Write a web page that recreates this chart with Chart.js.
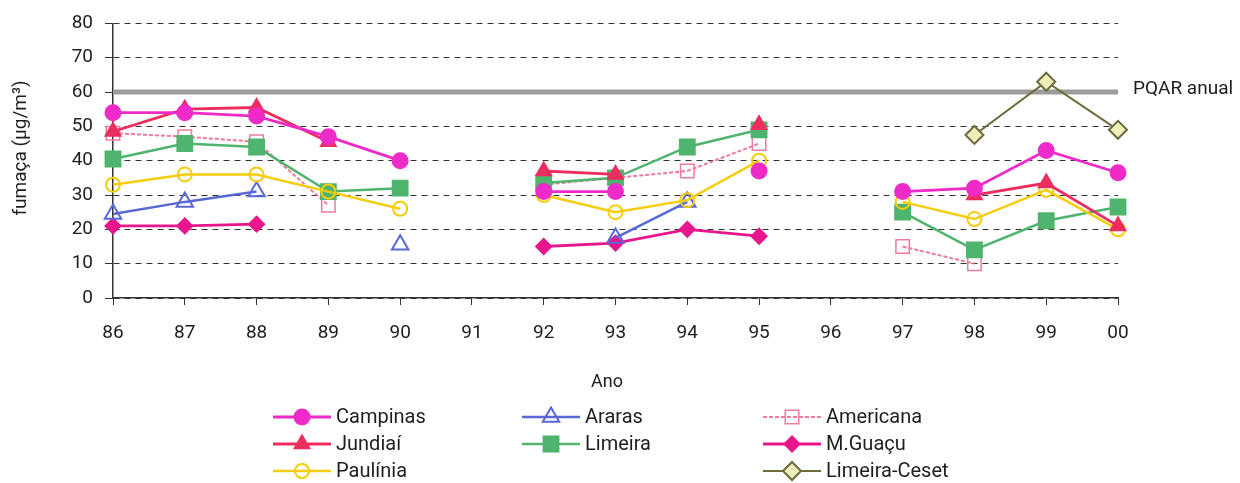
<!DOCTYPE html>
<html lang="pt">
<head>
  <meta charset="UTF-8">
  <title>Fumaça - médias anuais</title>
  <script src="https://cdn.jsdelivr.net/npm/chart.js"></script>
  <style>
    body { margin: 0; background: #fff; }
    #wrap { width: 1240px; height: 483px; }
  </style>
</head>
<body>
  <div id="wrap"><canvas id="grafico"></canvas></div>

  <script>
    // dados (µg/m³), null = sem medição
    const anos      = ['86','87','88','89','90','91','92','93','94','95','96','97','98','99','00'];
    const yTicks    = [0, 10, 20, 30, 40, 50, 60, 70, 80];
    const campinas  = [54, 54, 53, 47, 40, null, 31, 31, null, 37, null, 31, 32, 43, 36.5];
    const jundiai   = [48.5, 55, 55.5, 45.5, null, null, 37, 36, null, 50.5, null, null, 30, 33.5, 21];
    const paulinia  = [33, 36, 36, 31, 26, null, 30, 25, 28.5, 40, null, 28, 23, 31.5, 20];
    const araras    = [24.5, 28, 31, null, 15.5, null, null, 17.5, 28, null, null, null, null, null, null];
    const limeira   = [40.5, 45, 44, 31, 32, null, 33.5, 35, 44, 49, null, 25, 14, 22.5, 26.5];
    const americana = [48, 47, 45.5, 27, null, null, 33, 35, 37, 45, null, 15, 10, null, null];
    const mguacu    = [21, 21, 21.5, null, null, null, 15, 16, 20, 18, null, null, null, null, null];
    const ceset     = [null, null, null, null, null, null, null, null, null, null, null, null, 47.5, 63, 49];
    const pqar      = [60, 60, 60, 60, 60, 60, 60, 60, 60, 60, 60, 60, 60, 60, 60];

    const FONTE = "Roboto, 'DejaVu Sans', sans-serif";
    Chart.defaults.font.family = FONTE;
    Chart.defaults.color = '#1e1e1e';

    function serie(label, data, cor, estilo, raio, fundo, largura, extra) {
      return Object.assign({
        label: label, data: data,
        borderColor: cor, backgroundColor: fundo,
        pointBorderColor: cor, pointBackgroundColor: fundo,
        borderWidth: largura, pointStyle: estilo, pointRadius: raio,
        pointHoverRadius: raio, pointBorderWidth: 2, tension: 0, spanGaps: false
      }, extra || {});
    }

    const datasets = [
      serie('Campinas', campinas, '#ee2bc8', 'circle', 7.5, '#ee2bc8', 2.8),
      serie('Jundiaí', jundiai, '#ec2d5e', 'triangle', 8.5, '#ec2d5e', 2.8),
      serie('Paulínia', paulinia, '#f5cd0a', 'circle', 7, 'rgba(255,255,255,0)', 2.5),
      serie('Araras', araras, '#5a68d6', 'triangle', 9.5, 'rgba(255,255,255,0)', 2.5),
      serie('Limeira', limeira, '#4fb46e', 'rect', 10.5, '#4fb46e', 2.5),
      serie('Americana', americana, '#f07a9c', 'rect', 9.5, 'rgba(255,255,255,0)', 2, { borderDash: [4, 2], pointBorderWidth: 1.5 }),
      serie('M.Guaçu', mguacu, '#e8168c', 'rectRot', 7.5, '#e8168c', 2.8),
      serie('Limeira-Ceset', ceset, '#6b6b3c', 'rectRot', 9, '#eeeebb', 2),
      { label: 'PQAR anual', data: pqar, borderColor: '#9c9c9c', borderWidth: 5, pointRadius: 0, pointHoverRadius: 0, order: 10 }
    ];

    // posição de cada série na legenda: [coluna, linha]
    const legendaSlots = { 'Campinas': [0, 0], 'Jundiaí': [0, 1], 'Paulínia': [0, 2], 'Araras': [1, 0], 'Limeira': [1, 1],
                           'Americana': [2, 0], 'M.Guaçu': [2, 1], 'Limeira-Ceset': [2, 2] };

    const extras = {
      id: 'extras',
      afterDraw(chart) {
        const ctx = chart.ctx;
        const area = chart.chartArea;
        const y = chart.scales.y;
        ctx.save();
        ctx.fillStyle = '#1e1e1e';
        ctx.textBaseline = 'middle';

        // rótulo da linha PQAR
        ctx.font = '19px ' + FONTE;
        ctx.textAlign = 'left';
        ctx.fillText('PQAR anual', area.right + 15, y.getPixelForValue(60) - 3);

        // títulos dos eixos
        ctx.font = '18px ' + FONTE;
        ctx.textAlign = 'center';
        ctx.fillText('Ano', 607, 382);
        ctx.save();
        ctx.translate(21, 148);
        ctx.rotate(-Math.PI / 2);
        ctx.font = '19px ' + FONTE;
        ctx.fillText('fumaça (µg/m³)', 0, 0);
        ctx.restore();

        // legenda
        ctx.font = '20px ' + FONTE;
        const colX = [273, 522, 763];
        const rowY = [417, 444, 471];
        const amostra = 58;
        chart.data.datasets.forEach(ds => {
          const slot = legendaSlots[ds.label];
          if (!slot) return;
          const x0 = colX[slot[0]], yy = rowY[slot[1]];
          ctx.strokeStyle = ds.borderColor;
          ctx.lineWidth = ds.borderWidth;
          ctx.setLineDash(ds.borderDash || []);
          ctx.beginPath();
          ctx.moveTo(x0, yy);
          ctx.lineTo(x0 + amostra, yy);
          ctx.stroke();
          ctx.setLineDash([]);
          ctx.fillStyle = ds.pointBackgroundColor;
          ctx.strokeStyle = ds.pointBorderColor;
          ctx.lineWidth = ds.pointBorderWidth;
          const opts = { pointStyle: ds.pointStyle, radius: ds.pointRadius, borderWidth: ds.pointBorderWidth, rotation: 0 };
          if (Chart.helpers && Chart.helpers.drawPoint) {
            Chart.helpers.drawPoint(ctx, opts, x0 + amostra / 2, yy);
          } else {
            ctx.beginPath();
            ctx.arc(x0 + amostra / 2, yy, ds.pointRadius, 0, Math.PI * 2);
            ctx.fill();
            ctx.stroke();
          }
          ctx.fillStyle = '#1e1e1e';
          ctx.textAlign = 'left';
          ctx.fillText(ds.label, x0 + amostra + 5, yy + 1);
        });
        ctx.restore();
      }
    };

    new Chart(document.getElementById('grafico'), {
      type: 'line',
      data: { labels: anos, datasets: datasets },
      options: {
        responsive: true,
        maintainAspectRatio: false,
        animation: false,
        layout: { padding: { top: 21, right: 122, bottom: 0, left: 0 } },
        plugins: { legend: { display: false }, tooltip: { enabled: false } },
        scales: {
          x: {
            offset: false,
            afterFit(scale) { scale.height = 185; },
            grid: { drawOnChartArea: false, drawTicks: true, tickLength: 7, tickColor: '#333', tickWidth: 1 },
            border: { color: '#333', width: 1.5 },
            ticks: { padding: 17, font: { size: 19 }, color: '#1e1e1e', maxRotation: 0, autoSkip: false }
          },
          y: {
            min: 0, max: 80,
            afterFit(scale) { scale.width = 113; },
            afterBuildTicks(scale) { scale.ticks = yTicks.map(v => ({ value: v })); },
            grid: { color: '#333', lineWidth: 1, tickLength: 8, tickColor: '#333', tickBorderDash: [] },
            border: { color: '#333', width: 1.5, dash: [6, 5] },
            ticks: { padding: 12, font: { size: 19 }, color: '#1e1e1e' }
          }
        }
      },
      plugins: [extras]
    });
  </script>
</body>
</html>
